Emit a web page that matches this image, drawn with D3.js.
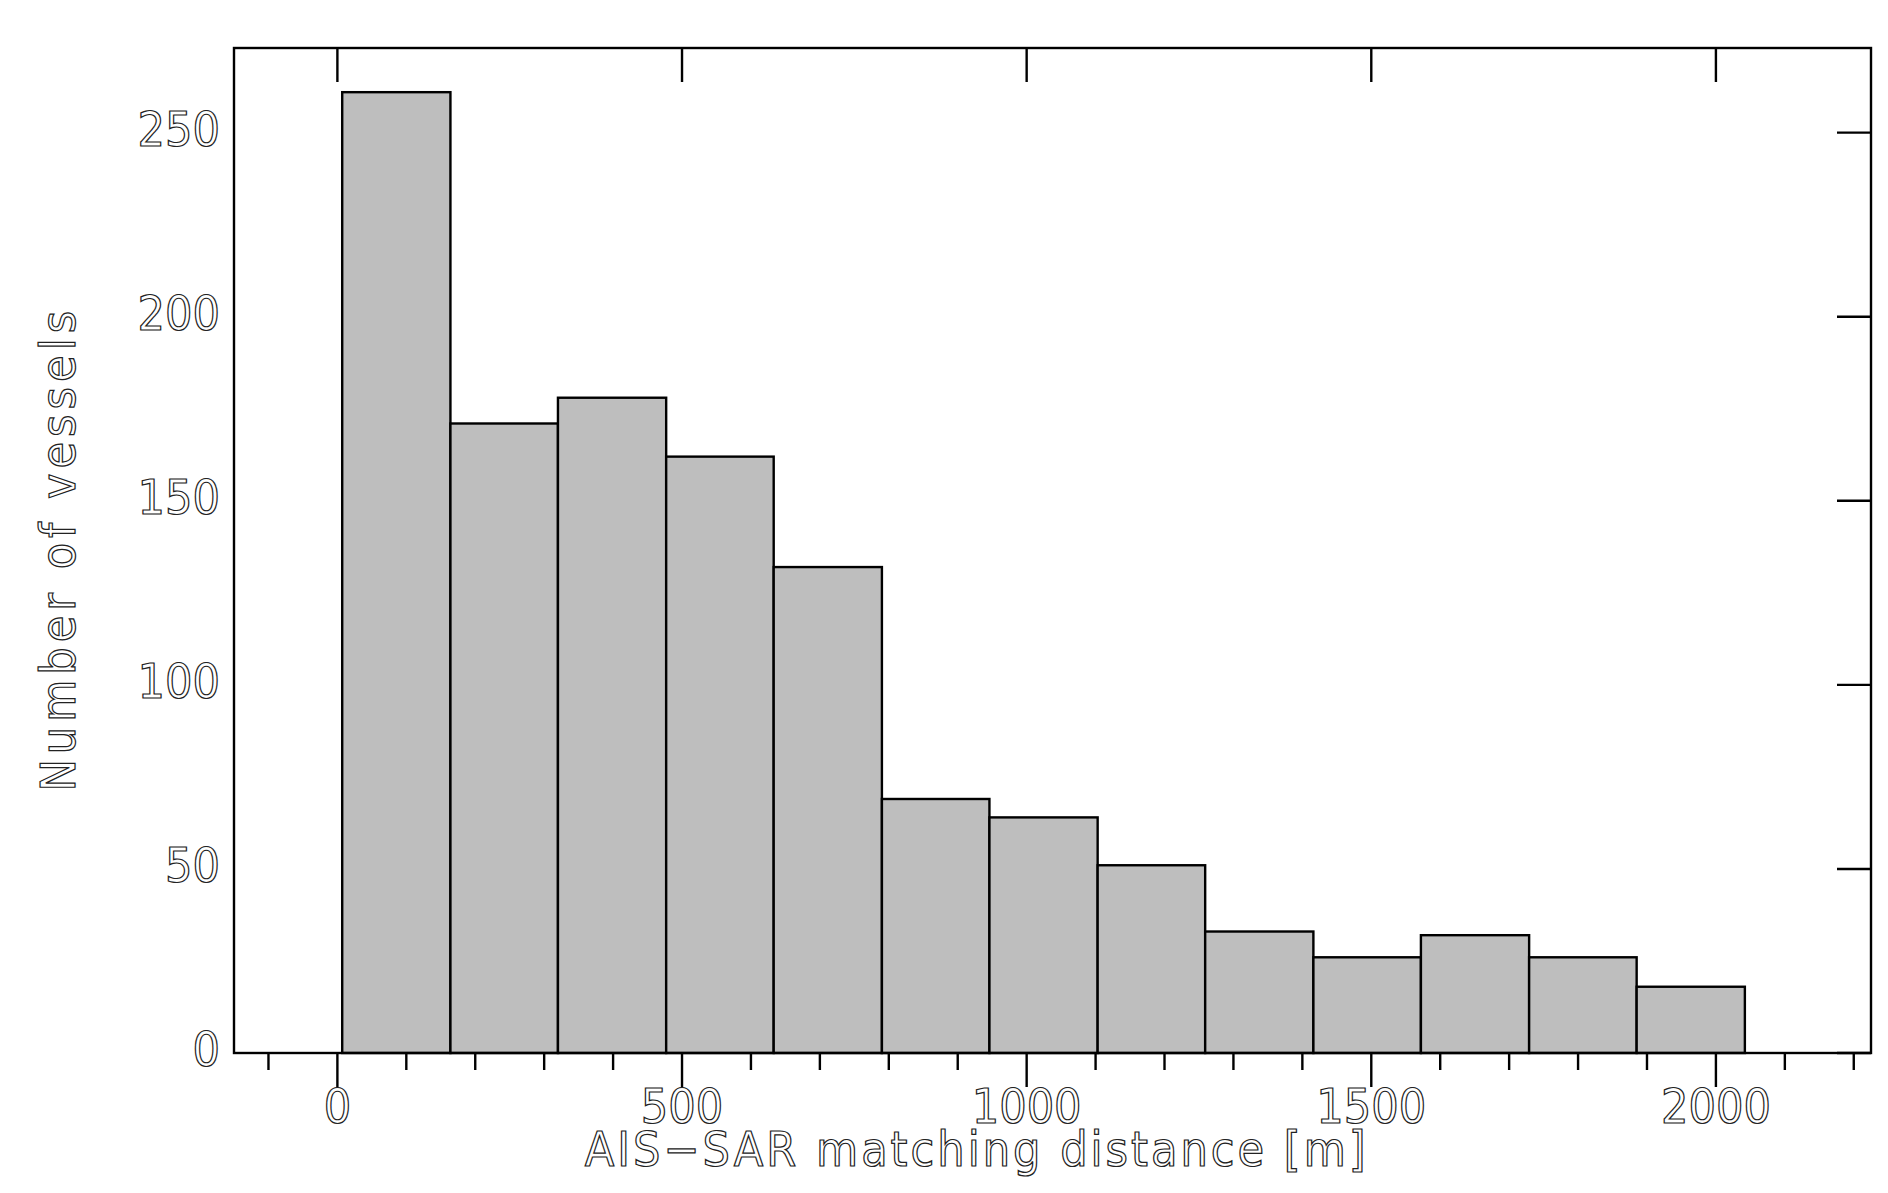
<!DOCTYPE html>
<html>
<head>
<meta charset='utf-8' />
<script src="https://cdnjs.cloudflare.com/ajax/libs/d3/7.8.5/d3.min.js"></script>
<style>
body { margin:0; padding:0; background:#fff; }
text { font-family: 'Liberation Sans Narrow', 'DejaVu Sans Condensed', sans-serif; fill:#fff; stroke:#222; stroke-width:1.2px; }
</style>
</head>
<body>
<svg id="chart" width="1888" height="1193"></svg>
<script>
// histogram bins (metres) and counts
var binEdges = [7, 164, 320, 477, 633, 790, 946, 1103, 1259, 1416, 1572, 1729, 1885, 2042];
var counts = [261, 171, 178, 162, 132, 69, 64, 51, 33, 26, 32, 26, 18];
var xTicks = [0, 500, 1000, 1500, 2000];
var yTicks = [0, 50, 100, 150, 200, 250];

var W = 1888, H = 1193;
var m = {left:234, right:1871, top:48, bottom:1053};
var svg = d3.select('#chart');

var x = d3.scaleLinear().domain([-150, 2225]).range([m.left, m.right]);
var y = d3.scaleLinear().domain([0, 273]).range([m.bottom, m.top]);

var bars = counts.map(function(c, i){ return {x0:binEdges[i], x1:binEdges[i+1], n:c}; });

svg.selectAll('rect.bar').data(bars).enter().append('rect')
    .attr('class','bar')
    .attr('x', function(d){ return x(d.x0); })
    .attr('y', function(d){ return y(d.n); })
    .attr('width', function(d){ return x(d.x1) - x(d.x0); })
    .attr('height', function(d){ return y(0) - y(d.n); })
    .attr('fill', '#bebebe').attr('stroke', '#000').attr('stroke-width', 2.4);

// frame
svg.append('rect').attr('x', m.left).attr('y', m.top)
    .attr('width', m.right - m.left).attr('height', m.bottom - m.top)
    .attr('fill', 'none').attr('stroke', '#000').attr('stroke-width', 2.4);

// bottom axis: outward ticks, major + minor
var minor = d3.range(-100, 2201, 100);
svg.selectAll('line.xmin').data(minor).enter().append('line')
    .attr('x1', function(d){ return x(d); }).attr('x2', function(d){ return x(d); })
    .attr('y1', m.bottom).attr('y2', function(d){ return m.bottom + (d % 500 === 0 ? 34 : 17); })
    .attr('stroke', '#000').attr('stroke-width', 2.4);
// top ticks, inward
svg.selectAll('line.xtop').data(xTicks).enter().append('line')
    .attr('x1', function(d){ return x(d); }).attr('x2', function(d){ return x(d); })
    .attr('y1', m.top).attr('y2', m.top + 34)
    .attr('stroke', '#000').attr('stroke-width', 2.4);
// right ticks, inward
svg.selectAll('line.yr').data(yTicks).enter().append('line')
    .attr('x1', m.right).attr('x2', m.right - 34)
    .attr('y1', function(d){ return y(d); }).attr('y2', function(d){ return y(d); })
    .attr('stroke', '#000').attr('stroke-width', 2.4);

svg.selectAll('text.xl').data(xTicks).enter().append('text')
    .attr('x', function(d){ return x(d); }).attr('y', m.bottom + 57)
    .attr('text-anchor', 'middle').attr('dominant-baseline', 'middle')
    .attr('font-size', 48).text(function(d){ return d; });

svg.selectAll('text.yl').data(yTicks).enter().append('text')
    .attr('x', m.left - 14).attr('y', function(d){ return y(d); })
    .attr('text-anchor', 'end').attr('dominant-baseline', 'middle')
    .attr('font-size', 48).text(function(d){ return d; });

svg.append('text').attr('x', x(1000) - 50).attr('y', m.bottom + 100)
    .attr('text-anchor', 'middle').attr('dominant-baseline', 'middle')
    .attr('font-size', 48).attr('letter-spacing', 3)
    .text('AIS\u2212SAR matching distance [m]');

svg.append('text')
    .attr('transform', 'translate(' + 62 + ',' + y(137) + ') rotate(-90)')
    .attr('text-anchor', 'middle').attr('dominant-baseline', 'middle')
    .attr('font-size', 48).attr('letter-spacing', 5)
    .text('Number of vessels');
</script>
</body>
</html>
